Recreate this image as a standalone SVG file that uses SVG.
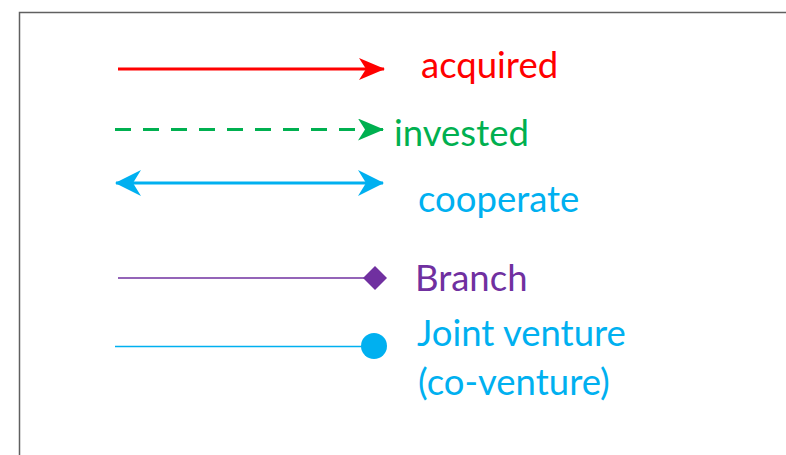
<svg xmlns="http://www.w3.org/2000/svg" width="786" height="455" viewBox="0 0 786 455">
<defs>
<style>
text{font-family:Lato,"Open Sans","Liberation Sans",sans-serif;font-size:36.5px}
.ln{fill:none}
</style>
<marker id="arRed" markerUnits="userSpaceOnUse" viewBox="0 0 26 22" refX="25" refY="11" markerWidth="26" markerHeight="22" orient="auto"><path d="M0,0 L26,11 L0,22 L7,11 Z" fill="#FF0000"/></marker>
<marker id="arGreen" markerUnits="userSpaceOnUse" viewBox="0 0 26 22" refX="25" refY="11" markerWidth="26" markerHeight="22" orient="auto"><path d="M0,0 L26,11 L0,22 L7,11 Z" fill="#00B050"/></marker>
<marker id="arBlue" markerUnits="userSpaceOnUse" viewBox="0 0 26 26" refX="25" refY="13" markerWidth="26" markerHeight="26" orient="auto-start-reverse"><path d="M0,0 L26,13 L0,26 L8,13 Z" fill="#00B0F0"/></marker>
</defs>
<rect x="19.5" y="12.5" width="780" height="460" fill="#FFFFFF" stroke="#606060" stroke-width="1.5"/>
<g id="connectors">
<line class="ln" x1="118" y1="69" x2="384" y2="69" stroke="#FF0000" stroke-width="3" marker-end="url(#arRed)"/>
<line class="ln" x1="115" y1="129.5" x2="383" y2="129.5" stroke="#00B050" stroke-width="3" stroke-dasharray="16,12" marker-end="url(#arGreen)"/>
<line class="ln" x1="116" y1="183" x2="383" y2="183" stroke="#00B0F0" stroke-width="3" marker-start="url(#arBlue)" marker-end="url(#arBlue)"/>
<line class="ln" x1="118" y1="278" x2="370" y2="278" stroke="#7030A0" stroke-width="1.3"/>
<line class="ln" x1="115" y1="346.5" x2="370" y2="346.5" stroke="#00B0F0" stroke-width="1.3"/>
</g>
<g id="acquired"><text x="421" y="78" fill="#FF0000">acquired</text></g>
<g id="invested"><text x="394" y="146" fill="#00B050">invested</text></g>
<g id="cooperate"><text x="418" y="212" fill="#00B0F0">cooperate</text></g>
<g id="branch"><path d="M375,266 L387,278 L375,290 L363,278 Z" fill="#7030A0"/><text x="415" y="291" fill="#7030A0">Branch</text></g>
<g id="jointventure"><circle cx="374" cy="346" r="13" fill="#00B0F0"/><text fill="#00B0F0"><tspan x="417" y="346">Joint venture</tspan><tspan x="418" y="395">(co-venture)</tspan></text></g>
</svg>
